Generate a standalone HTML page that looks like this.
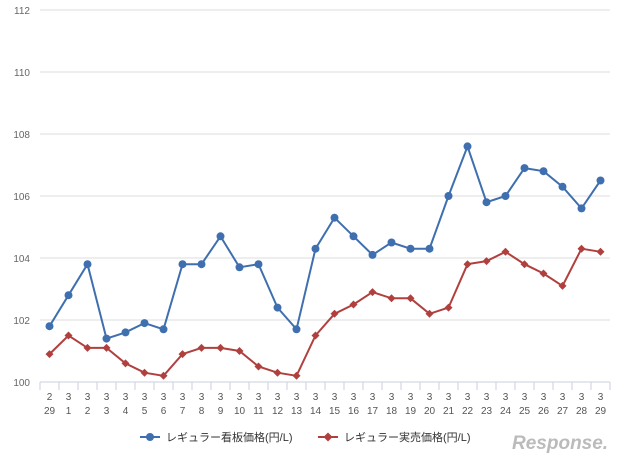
<!DOCTYPE html>
<html><head><meta charset="utf-8"><style>
body{margin:0;background:#fff;width:640px;height:462px;overflow:hidden;font-family:"Liberation Sans","Noto Sans CJK JP",sans-serif}
</style></head><body>
<svg id="chart" width="640" height="462" xmlns="http://www.w3.org/2000/svg" font-family="Liberation Sans, Noto Sans CJK JP, sans-serif">
<g id="grid"></g><g id="xaxis"></g><g id="series"></g>
<g font-size="11" fill="#333">
<line x1="140" y1="437" x2="160" y2="437" stroke="#3f6faf" stroke-width="2"/><circle cx="150" cy="437" r="4" fill="#3f6faf"/>
<text x="166" y="441">レギュラー看板価格(円/L)</text>
<line x1="318" y1="437" x2="338" y2="437" stroke="#b0403e" stroke-width="2"/><path d="M328 432.5L332.5 437L328 441.5L323.5 437Z" fill="#b0403e"/>
<text x="344" y="441">レギュラー実売価格(円/L)</text>
</g>
<text x="512" y="449" font-size="19" font-style="italic" font-weight="bold" fill="#bbb">Response.</text>
</svg>
<script>
const dates1=["2","3","3","3","3","3","3","3","3","3","3","3","3","3","3","3","3","3","3","3","3","3","3","3","3","3","3","3","3","3"];
const dates2=["29","1","2","3","4","5","6","7","8","9","10","11","12","13","14","15","16","17","18","19","20","21","22","23","24","25","26","27","28","29"];
const signboard=[101.8,102.8,103.8,101.4,101.6,101.9,101.7,103.8,103.8,104.7,103.7,103.8,102.4,101.7,104.3,105.3,104.7,104.1,104.5,104.3,104.3,106.0,107.6,105.8,106.0,106.9,106.8,106.3,105.6,106.5];
const actual=[100.9,101.5,101.1,101.1,100.6,100.3,100.2,100.9,101.1,101.1,101.0,100.5,100.3,100.2,101.5,102.2,102.5,102.9,102.7,102.7,102.2,102.4,103.8,103.9,104.2,103.8,103.5,103.1,104.3,104.2];
const yTicks=[100,102,104,106,108,110,112];
const NS="http://www.w3.org/2000/svg";
const L=40,R=610,T=10,B=382,ymin=100,ymax=112;
const band=(R-L)/dates1.length;
const x=i=>L+band*(i+0.5);
const y=v=>B-(v-ymin)/(ymax-ymin)*(B-T);
function mk(tag,attrs,parent){const e=document.createElementNS(NS,tag);for(const k in attrs)e.setAttribute(k,attrs[k]);parent.appendChild(e);return e;}
const grid=document.getElementById('grid');
yTicks.forEach(t=>{
 const l=mk('line',{x1:L,x2:R,y1:y(t),y2:y(t),stroke:t===100?'#c8d2dc':'#dcdcdc','stroke-width':1},grid);
 
 
 const tx=mk('text',{x:30,y:y(t)+4,'text-anchor':'end','font-size':10,fill:'#666'},grid);
 tx.textContent=t;
 
 
});
const xa=document.getElementById('xaxis');
for(let i=0;i<=dates1.length;i++){
 const l=mk('line',{x1:L+band*i,x2:L+band*i,y1:B,y2:B+8,stroke:'#c8d2dc'},xa);
 
 
}
dates1.forEach((d,i)=>{
 const a=mk('text',{x:x(i),y:400,'text-anchor':'middle','font-size':10,fill:'#555'},xa);
 a.textContent=d;
 
 
 const b=mk('text',{x:x(i),y:414,'text-anchor':'middle','font-size':10,fill:'#555'},xa);
 b.textContent=dates2[i];
 
 
});
const sg=document.getElementById('series');
function draw(data,color,shape,name){
 const p=mk('polyline',{points:data.map((v,i)=>x(i)+','+y(v)).join(' '),fill:'none',stroke:color,'stroke-width':2},sg);
 
 
 data.forEach((v,i)=>{
  let m;
  if(shape==='c')m=mk('circle',{cx:x(i),cy:y(v),r:4,fill:color},sg);
  else{const cx=x(i),cy=y(v);m=mk('path',{d:`M${cx} ${cy-4}L${cx+4} ${cy}L${cx} ${cy+4}L${cx-4} ${cy}Z`,fill:color},sg);}
  
  
 });
}
draw(actual,'#b0403e','d','actual-price');
draw(signboard,'#3f6faf','c','signboard-price');
</script>
</body></html>
